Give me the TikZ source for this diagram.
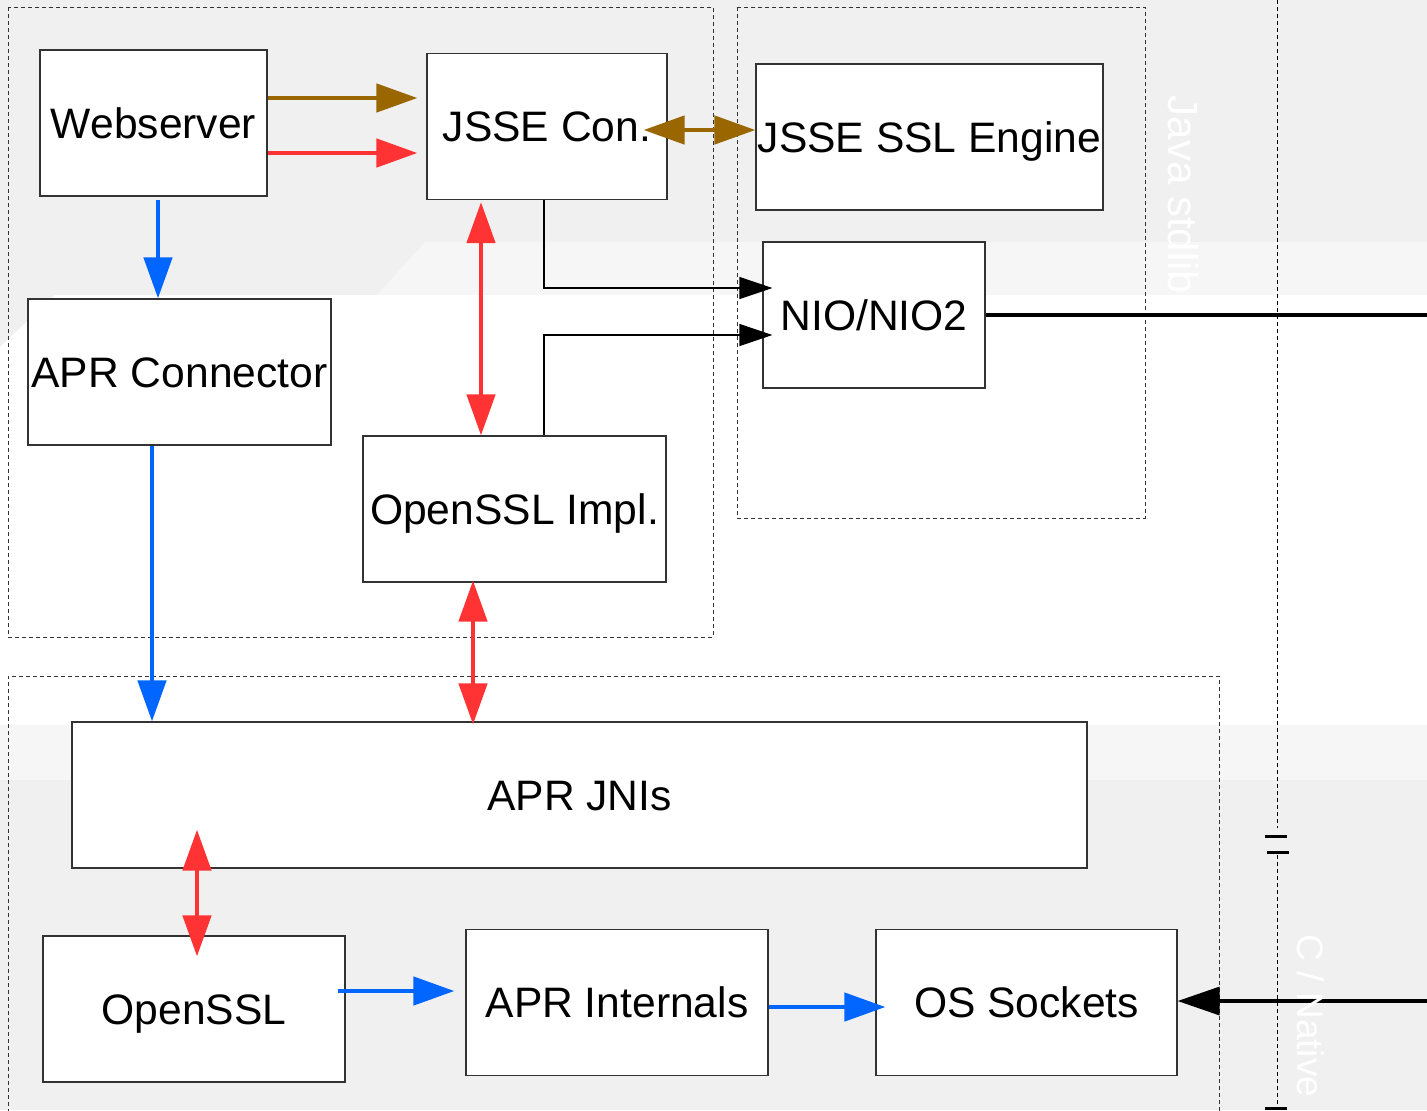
\documentclass[tikz,border=0pt]{standalone}
\usepackage{fontspec}
\setmainfont{Liberation Sans}
\usepackage{tikz}
\usetikzlibrary{arrows.meta,positioning,calc}
\definecolor{bggray}{HTML}{F0F0F0}
\definecolor{bgband}{HTML}{F6F6F6}
\definecolor{boxline}{HTML}{333333}
\definecolor{arbrown}{HTML}{996600}
\definecolor{arred}{HTML}{FF3333}
\definecolor{arblue}{HTML}{0066FF}
\tikzset{
  blk/.style={draw=boxline, line width=.6pt, fill=white, align=center, inner sep=0pt, minimum height=73pt, text height=15pt, text depth=0pt, font=\fontsize{21.3}{25}\selectfont},
  grp/.style={draw=boxline, line width=.5pt, dash pattern=on 2pt off 1.5pt},
  ar/.style={-{Triangle[length=20.5pt,width=14pt]}, line width=2.3pt},
  ard/.style={{Triangle[length=20.5pt,width=14pt]}-{Triangle[length=20.5pt,width=14pt]}, line width=2.3pt},
  arn/.style={-{Triangle[length=16.5pt,width=11pt]}, line width=.6pt, draw=black},
  arth/.style={line width=1.7pt, draw=black},
  brk/.style={line width=1.5pt, draw=black},
  lbl/.style={text=white, rotate=-90, inner sep=0pt, font=\fontsize{21}{25}\selectfont},
}
\begin{document}
\begin{tikzpicture}[x=0.5pt, y=-0.5pt]
    \useasboundingbox (0,0) rectangle (1427,1110);
    % fondo
    \fill[bggray] (0,0) rectangle (1427,1110);
    \fill[bgband] (425,242) -- (1427,242) -- (1427,295) -- (377,295) -- cycle;
    \fill[white] (55,295) -- (1427,295) -- (1427,725) -- (0,725) -- (0,347) -- cycle;
    \fill[bgband] (0,725) rectangle (1427,780);

    % grupos
    \draw[grp] (8,7) rectangle (713,637);
    \draw[grp] (737,7) rectangle (1145,518);
    \draw[grp] (8,1120) -- (8,676) -- (1219,676) -- (1219,1120);
    \draw[grp, draw=black] (1277,0) -- (1277,828);
    \draw[grp, draw=black] (1277,855) -- (1277,1104);
    \draw[brk] (1265,836) -- (1287,836);
    \draw[brk] (1267,852) -- (1289,852);
    \draw[brk] (1265,1108) -- (1287,1108);

    % cajas
    \node[blk, minimum width=113.5pt] (web) at (153.5,123) {Webserver};
    \node[blk, minimum width=120pt] (jcon) at (547,126.5) {JSSE Con.};
    \node[blk, minimum width=173.5pt] (jeng) at (929.5,137) {JSSE SSL Engine};
    \node[blk, minimum width=111pt] (nio) at (874,315) {NIO/NIO2};
    \node[blk, minimum width=151.5pt] (aprcon) at (179.5,372) {APR Connector};
    \node[blk, minimum width=151.5pt] (osslimpl) at (514.5,509) {OpenSSL Impl.};
    \node[blk, minimum width=507.5pt] (aprjni) at (579.5,795) {APR JNIs};
    \node[blk, minimum width=151pt] (openssl) at (194,1009) {OpenSSL};
    \node[blk, minimum width=151pt] (aprint) at (617,1002.5) {APR Internals};
    \node[blk, minimum width=150.5pt] (ossock) at (1026.5,1002.5) {OS Sockets};
    \coordinate (nioout) at (1427,315);
    \coordinate (sockin) at (1427,1001);

    % flechas
    \draw[ar, draw=arbrown, shorten >=4.5pt] (web.east |- 0,98) -- (jcon.west |- 0,98);
    \draw[ar, draw=arred, shorten >=4.5pt] (web.east |- 0,153) -- (jcon.west |- 0,153);
    \draw[ard, draw=arbrown, shorten <=-12pt] (jcon.east |- 0,130) -- (jeng.west |- 0,130);
    \draw[ar, draw=arblue, shorten <=1.5pt] (158,0 |- web.south) -- (158,0 |- aprcon.north);
    \draw[ard, draw=arred, shorten <=1pt] (481,0 |- jcon.south) -- (481,0 |- osslimpl.north);
    \draw[arn, shorten >=-5pt] (544,0 |- jcon.south) |- (nio.west |- 0,288);
    \draw[arn, shorten >=-5pt] (544,0 |- osslimpl.north) |- (nio.west |- 0,335);
    \draw[arth] (nio.east) -- (nioout);
    \draw[ar, draw=arblue] (152,0 |- aprcon.south) -- (152,0 |- aprjni.north);
    \draw[ard, draw=arred, shorten <=-1pt, shorten >=-1.5pt] (473,0 |- osslimpl.south) -- (473,0 |- aprjni.north);
    \draw[ard, draw=arred, shorten <=-19.5pt, shorten >=-10.5pt] (197,0 |- aprjni.south) -- (197,0 |- openssl.north);
    \draw[ar, draw=arblue, shorten <=-4pt, shorten >=5.5pt] (openssl.east |- 0,991) -- (aprint.west |- 0,991);
    \draw[ar, draw=arblue, shorten >=-5pt] (aprint.east |- 0,1007) -- (ossock.west |- 0,1007);
    \draw[arth, -{Triangle[length=21pt,width=14pt]}] (sockin) -- (ossock.east |- sockin);

    % capas
    \node[lbl] (javalbl) at (1183,195) {Java stdlib};
    \node[lbl, font=\fontsize{18.5}{22}\selectfont] (nativelbl) at (1311,1016) {C / Native};
\end{tikzpicture}
\end{document}
